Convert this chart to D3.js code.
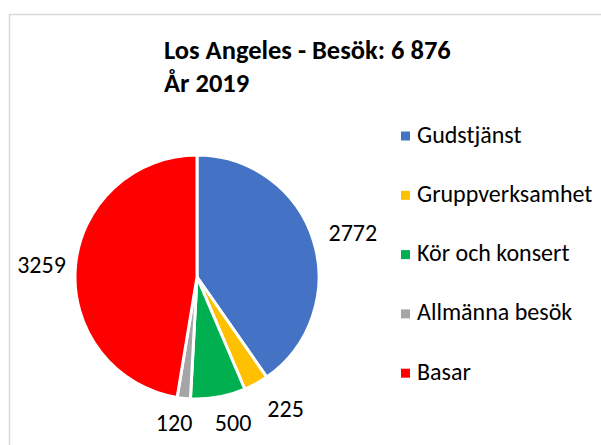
<!DOCTYPE html>
<meta charset="utf-8">
<title>Los Angeles - Besök 2019</title>

<style>
body {
  margin: 0px;
  background: #fff;
}
text {
  font-family: Carlito, Calibri, Lato, sans-serif;
  fill: #000;
}
</style>

<script src="https://d3js.org/d3.v7.min.js"></script>

<body>
<script>

// Chart data
var categories = ["Gudstjänst", "Gruppverksamhet", "Kör och konsert", "Allmänna besök", "Basar"];
var visits = [2772, 225, 500, 120, 3259];
var colors = ["#4472C4", "#FFC000", "#00B050", "#A5A5A5", "#FF0000"];
var titleLines = ["Los Angeles - Besök: 6 876", "År 2019"];

var width = 601, height = 445;

var svg = d3.select("body").append("svg")
    .attr("width", width)
    .attr("height", height);

// Chart area frame (runs off the right and bottom edge)
svg.append("rect")
  .attr("x", 9.5)
  .attr("y", 14.5)
  .attr("width", 620)
  .attr("height", 460)
  .attr("fill", "none")
  .attr("stroke", "#d9d9d9")
  .attr("stroke-width", 1.5);

// Title
svg.append("g").selectAll("text")
    .data(titleLines)
  .enter().append("text")
    .attr("x", 164)
    .attr("y", function(d, i) { return 59 + i * 33; })
    .style("font-size", "26.5px")
    .style("font-weight", "bold")
    .text(function(d) { return d; });

// Pie
var cx = 197, cy = 277, radius = 122;

var pie = d3.pie()
    .sort(null)
    .value(function(d) { return d; });

var arc = d3.arc()
    .innerRadius(0)
    .outerRadius(radius);

var arcs = pie(visits);

var pieG = svg.append("g")
    .attr("transform", "translate(" + cx + "," + cy + ")");

pieG.selectAll("path")
    .data(arcs)
  .enter().append("path")
    .attr("d", arc)
    .attr("fill", function(d, i) { return colors[i]; })
    .attr("stroke", "#fff")
    .attr("stroke-width", 3)
    .attr("stroke-linejoin", "round");

// Data labels outside the pie
var labelArc = d3.arc()
    .innerRadius(radius + 34)
    .outerRadius(radius + 34);
// small tweaks so the labels sit like the original
var labelShift = [[7, 2], [13, -5], [9, -8], [-6, -9], [0, 0]];

pieG.selectAll("text")
    .data(arcs)
  .enter().append("text")
    .attr("transform", function(d, i) {
      var c = labelArc.centroid(d);
      return "translate(" + (c[0] + labelShift[i][0]) + "," + (c[1] + labelShift[i][1]) + ")";
    })
    .attr("text-anchor", "middle")
    .attr("dy", "0.35em")
    .style("font-size", "24px")
    .text(function(d) { return d.data; });

// Legend
var legend = svg.append("g")
    .attr("transform", "translate(401,0)");

var rows = legend.selectAll("g")
    .data(categories)
  .enter().append("g")
    .attr("transform", function(d, i) { return "translate(0," + (136 + i * 59.3) + ")"; });

rows.append("rect")
    .attr("x", 0)
    .attr("y", -4.5)
    .attr("width", 9)
    .attr("height", 9)
    .attr("fill", function(d, i) { return colors[i]; });

rows.append("text")
    .attr("x", 16)
    .attr("y", 6.5)
    .style("font-size", "24px")
    .text(function(d) { return d; });

</script>
